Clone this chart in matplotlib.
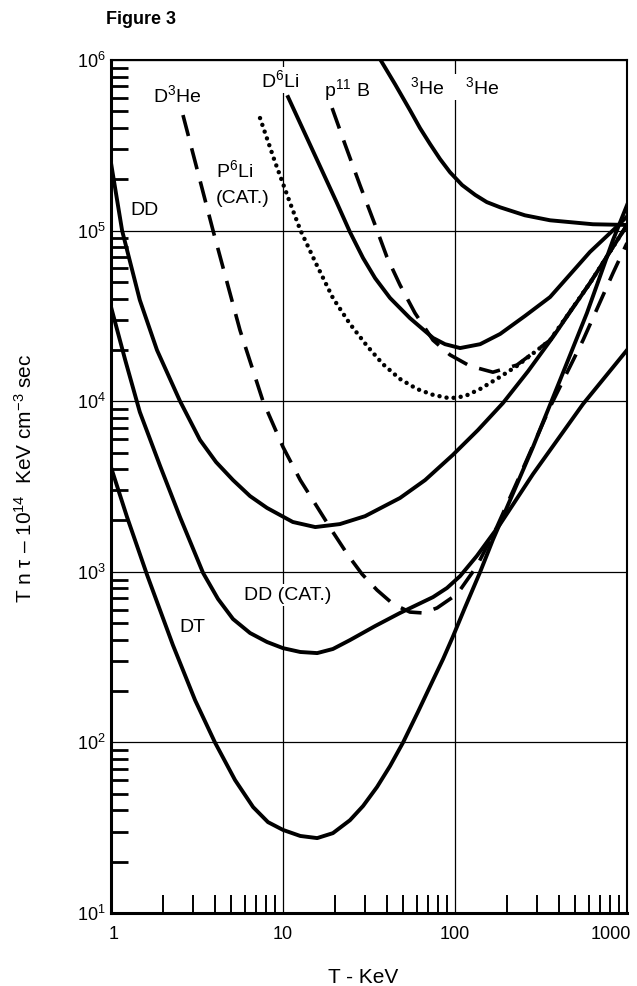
import matplotlib
matplotlib.use('Agg')
import matplotlib.pyplot as plt
from matplotlib.ticker import LogLocator, NullFormatter
from matplotlib.transforms import ScaledTranslation

plt.rcParams['font.family'] = ['Liberation Sans', 'DejaVu Sans']
plt.rcParams['mathtext.fontset'] = 'custom'
plt.rcParams['mathtext.rm'] = 'Liberation Sans'
plt.rcParams['mathtext.it'] = 'Liberation Sans:italic'
plt.rcParams['mathtext.bf'] = 'Liberation Sans:bold'
plt.rcParams['mathtext.default'] = 'regular'

# -----------------------------
# Curves (T in keV, T n tau in 1e14 keV cm^-3 s)
# -----------------------------
dt_T = [1, 1.24, 1.62, 2.29, 3.08, 4.02, 5.26, 6.7, 8.18, 10, 12.6, 15.8, 19.5, 24.5, 29.2,
        35.2, 41.9, 49.9, 60.9, 74.5, 85.2, 97, 114, 140, 166, 183, 284, 408, 585, 829, 1000]
dt_v = [4100, 2090, 960, 372, 177, 100, 60.2, 41.8, 34.1, 30.7, 28.3, 27.5, 29.4, 35, 42.4,
        54.8, 72.7, 100, 151, 232, 308, 415, 614, 998, 1540, 1930, 5390, 13300, 32900, 88100, 141000]

dd_T = [1, 1.16, 1.47, 1.85, 2.52, 3.29, 4.08, 5.12, 6.43, 8.07, 11.4, 15.4, 21.4, 30, 47.9,
        67, 97, 136, 190, 266, 371, 609, 829, 1000]
dd_v = [249000, 100000, 39200, 19950, 10000, 5930, 4400, 3450, 2780, 2370, 1960, 1830, 1905, 2120, 2710,
        3450, 4840, 6780, 9760, 15000, 23800, 49300, 80200, 108000]

ddc_T = [1, 1.21, 1.47, 1.93, 2.52, 3.43, 4.19, 5.12, 6.43, 8.07, 10, 12.6, 15.8, 19.5, 24.5,
         34.3, 47.9, 74.5, 89.8, 107, 134, 183, 284, 555, 1000]
ddc_v = [35700, 17400, 8650, 4170, 2090, 985, 693, 529, 438, 388, 357, 339, 334, 353, 398,
         481, 574, 711, 804, 944, 1240, 1905, 3740, 9630, 19950]

d3he_T = [2.62, 3.92, 5.62, 7.65, 10, 12.6, 15.8, 19.5, 23.9, 28.8, 35.2, 43.6, 54.7, 65.2,
          78.6, 103, 134, 175, 239, 357, 555, 829, 1000]
d3he_v = [476000, 100000, 26100, 10000, 5390, 3450, 2400, 1710, 1250, 970, 782, 648, 581, 574,
          614, 741, 1081, 1830, 3690, 9250, 22800, 56400, 84600]

p6li_T = [7.35, 8.98, 11.0, 12.6, 15.4, 19.5, 24.5, 30.8, 38.1, 47.9, 60.1, 74.5, 93.5, 114,
          140, 183, 229, 357, 609, 829, 1000]
p6li_v = [457000, 253000, 145000, 101000, 65500, 40300, 28400, 21100, 16500, 13500, 11800, 10900, 10400, 10700,
          11800, 13900, 16100, 22800, 49300, 80200, 108000]

p11b_T = [19.3, 22.9, 28, 34.3, 40.2, 47.9, 58.5, 74.5, 93.5, 122, 166, 229, 357, 609, 829, 1000]
p11b_v = [523000, 322000, 185000, 108000, 70000, 48000, 32900, 22800, 18700, 16100, 14800, 16300,
          22800, 49300, 80200, 108000]

d6li_T = [10.7, 15.8, 20.6, 24.5, 29.2, 34.3, 41.9, 54.7, 74.5, 87.5, 107, 140, 183, 255, 357,
          609, 851, 1000]
d6li_v = [607000, 259000, 145000, 98100, 69100, 52700, 40300, 30700, 23500, 21600, 20500, 21600, 24800, 31600, 40800,
          75000, 103000, 121000]

he3_T = [34.7, 44.8, 54.7, 62.6, 71.6, 81.8, 93.5, 110, 131, 153, 183, 255, 357, 634, 1000]
he3_v = [1110000, 722000, 509000, 399000, 322000, 263000, 220000, 185000, 162000, 147000, 137000,
         123000, 115000, 109000, 108000]

x_ticks = [1, 10, 100, 1000]
x_ticklabels = ['1', '10', '100', '1000']
y_exps = [1, 2, 3, 4, 5, 6]

# -----------------------------
# Figure
# -----------------------------
fig = plt.figure(figsize=(6.37, 9.86), dpi=100)
ax = fig.add_axes([0.1743, 0.0740, 0.8100, 0.8651])
ax.set_xscale('log')
ax.set_yscale('log')
ax.set_xlim(1, 1000)
ax.set_ylim(10, 1e6)

solid = dict(color='black', lw=2.8, solid_joinstyle='round', zorder=3)
ax.plot(dt_T, dt_v, **solid)
ax.plot(dd_T, dd_v, **solid)
ax.plot(ddc_T, ddc_v, **solid)
ax.plot(d6li_T, d6li_v, **solid)
ax.plot(he3_T, he3_v, **solid)
ax.plot(d3he_T, d3he_v, color='black', lw=2.6, dashes=(6, 3.5), zorder=3)
ax.plot(p11b_T, p11b_v, color='black', lw=2.6, dashes=(6, 3.5), zorder=3)
ax.plot(p6li_T, p6li_v, color='black', lw=3.2, linestyle=(0, (0.01, 1.6)),
        dash_capstyle='round', zorder=3)

# ticks and grid
ax.set_xticks(x_ticks)
ax.set_xticklabels(x_ticklabels)
ax.set_yticks([10.0 ** k for k in y_exps])
ax.set_yticklabels([f'$10^{{{k}}}$' for k in y_exps])
ax.xaxis.set_minor_locator(LogLocator(base=10, subs=range(2, 10), numticks=20))
ax.yaxis.set_minor_locator(LogLocator(base=10, subs=range(2, 10), numticks=20))
ax.xaxis.set_minor_formatter(NullFormatter())
ax.yaxis.set_minor_formatter(NullFormatter())
ax.tick_params(which='major', length=0, labelsize=13)
ax.tick_params(axis='x', which='major', pad=9)
ax.tick_params(axis='y', which='major', pad=4)
ax.tick_params(axis='x', which='minor', direction='in', length=13, width=1.4, top=False)
ax.tick_params(axis='y', which='minor', direction='in', length=12, width=2.0, right=False)
ax.grid(True, which='major', color='black', lw=0.9)
ax.set_axisbelow(True)

# nudge the end labels of the x axis like the printed figure
xlabels = ax.get_xticklabels()
xlabels[0].set_transform(xlabels[0].get_transform() + ScaledTranslation(3 / 100, 0, fig.dpi_scale_trans))
xlabels[-1].set_transform(xlabels[-1].get_transform() + ScaledTranslation(-16 / 100, 0, fig.dpi_scale_trans))

ax.spines['left'].set_linewidth(2.2)
ax.spines['bottom'].set_linewidth(2.2)
ax.spines['top'].set_linewidth(1.5)
ax.spines['right'].set_linewidth(1.5)

# curve labels
lab = dict(fontsize=14, ha='center', va='center', zorder=2.5,
           bbox=dict(facecolor='white', edgecolor='none', pad=1.5))
ax.text(2.42, 6.24e5, 'D$^{3}$He', **lab)
ax.text(9.6, 7.65e5, 'D$^{6}$Li', **lab)
ax.text(5.26, 2.26e5, 'P$^{6}$Li', **lab)
ax.text(5.85, 1.55e5, '(CAT.)', **lab)
ax.text(1.56, 1.32e5, 'DD', **lab)
ax.text(23.6, 6.67e5, 'p$^{11}$ B', **lab)
ax.text(100, 6.95e5, '$^{3}$He    $^{3}$He', **lab)
ax.text(10.7, 731, 'DD (CAT.)', **lab)
ax.text(2.96, 474, 'DT', **lab)

fig.text(0.039, 0.515, 'T n τ – 10$^{14}$  KeV cm$^{-3}$ sec', rotation=90,
         fontsize=15, ha='center', va='center')
fig.text(0.570, 0.0091, 'T - KeV', fontsize=15, ha='center', va='center')
fig.text(0.166, 0.980, 'Figure 3', fontsize=13, fontweight='bold', ha='left', va='center')

fig.savefig('out.png', dpi=100)
